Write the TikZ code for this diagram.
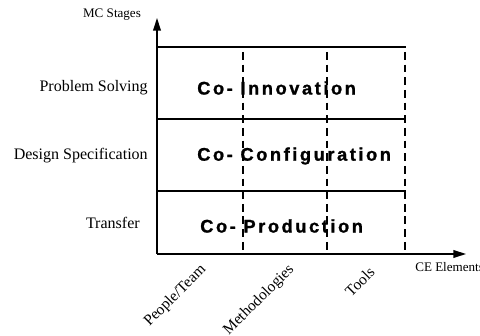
\documentclass[tikz,border=0pt]{standalone}
\usepackage{fontspec}
\setmainfont{Liberation Serif}
\newfontfamily\cofont[LetterSpace=14, FakeBold=1.2]{Liberation Sans Bold}
\usetikzlibrary{arrows.meta, calc, positioning}

\begin{document}
\begin{tikzpicture}[
    every node/.style={font=\fontsize{11.4}{13}\selectfont, inner sep=0pt},
    axis/.style={line width=1.1pt, -{Triangle[length=9pt, width=5.5pt]}},
    stageline/.style={line width=1.8pt},
    elemline/.style={line width=1.3pt, dash pattern=on 5.5pt off 3.5pt},
    colabel/.style={anchor=west, font=\cofont\fontsize{13}{15}\selectfont},
    stagelabel/.style={anchor=east},
    elemlabel/.style={anchor=east, rotate=45, font=\fontsize{11}{12}\selectfont},
    axislabel/.style={font=\fontsize{9.3}{11}\selectfont},
  ]
  \useasboundingbox (0,0) rectangle (12,8.4);

  % Achsen
  \coordinate (O) at (3.925,2.05);
  \coordinate (ytop) at (3.925,7.95);
  \coordinate (xend) at (11.65,2.05);
  \draw[axis] (O) -- (ytop);
  \draw[axis] (O) -- (xend);
  \node[axislabel] (mc) at (2.8,8.03) {MC Stages};
  \node[axislabel, anchor=west] (ce) at (10.375,1.72) {CE Elements};

  % Stufen (waagrecht) und Elemente (gestrichelt)
  \foreach \y in {7.225, 5.425, 3.625}
    \draw[stageline] (3.925,\y) -- (10.15,\y);
  \foreach \x in {6.075, 8.175, 10.125}
    \draw[elemline] (\x,7.1) -- (\x,2.05);

  % Beschriftung der Stufen
  \node[stagelabel] (ps) at (3.7,6.2) {Problem Solving};
  \node[stagelabel] (ds) at (3.7,4.5) {Design Specification};
  \node[stagelabel] (tr) at (3.5,2.83) {Transfer};

  \node[colabel] (inno) at (4.925,6.2) {Co- Innovation};
  \node[colabel] (conf) at (4.925,4.5) {Co- Configuration};
  \node[colabel] (prod) at (5.0,2.75) {Co- Production};

  % Elemente, schraeg
  \node[elemlabel] (pt) at (5.1,1.72) {People/Team};
  \node[elemlabel] (me) at (7.3,1.72) {Methodologies};
  \node[elemlabel] (to) at (9.3,1.66) {Tools};
\end{tikzpicture}
\end{document}
